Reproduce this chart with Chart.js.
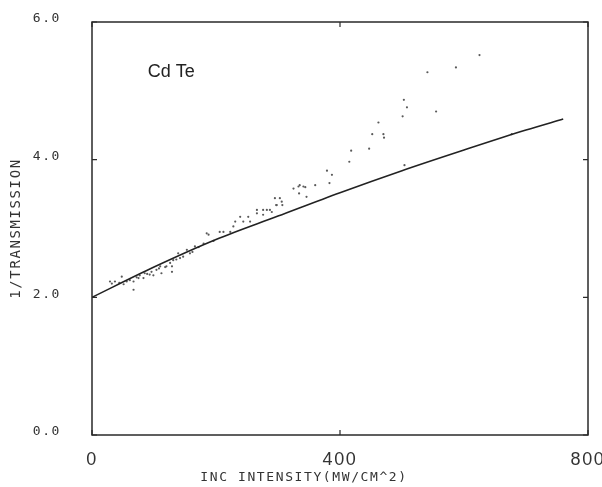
<!DOCTYPE html>
<html><head><meta charset="utf-8">
<script src="https://cdn.jsdelivr.net/npm/chart.js@4"></script>
<style>html,body{margin:0;padding:0;background:#fff;} #wrap{width:602px;height:487px;}</style>
</head><body><div id="wrap"><canvas id="c" width="602" height="487"></canvas></div>
<script>
// measured points (INC INTENSITY, 1/TRANSMISSION)
const scatterX = [29,32,37,44,48,51,56,61,67,67,72,75,77,83,85,89,93,96,99,104,108,110,112,118,120,126,129,129,131,136,139,142,147,153,158,162,166,172,180,185,188,196,206,212,223,228,231,239,244,252,255,266,266,276,276,282,287,290,295,297,298,303,306,307,325,333,334,335,341,344,346,360,379,383,387,415,418,447,452,462,470,471,501,503,504,508,541,555,587,625,677];
const scatterY = [2.23,2.20,2.23,2.21,2.30,2.19,2.23,2.25,2.23,2.11,2.29,2.28,2.32,2.28,2.35,2.34,2.33,2.37,2.32,2.40,2.42,2.45,2.35,2.44,2.45,2.50,2.45,2.37,2.54,2.55,2.64,2.57,2.59,2.69,2.64,2.66,2.74,2.73,2.78,2.93,2.91,2.82,2.95,2.95,2.95,3.03,3.10,3.17,3.10,3.17,3.10,3.27,3.22,3.27,3.20,3.27,3.27,3.24,3.44,3.34,3.34,3.44,3.39,3.34,3.58,3.61,3.51,3.63,3.61,3.60,3.46,3.63,3.84,3.66,3.78,3.97,4.13,4.16,4.37,4.54,4.37,4.32,4.63,4.87,3.92,4.76,5.27,4.70,5.34,5.52,4.37];
// fitted curve
const fitX = [0,100,200,300,400,500,600,700,760];
const fitY = [2.0,2.44,2.84,3.18,3.52,3.84,4.14,4.43,4.59];
const xTicks = [0,400,800];
const yTicks = [0,2,4,6];
const xTitle = 'INC INTENSITY(MW/CM^2)';
const yTitle = '1/TRANSMISSION';
const sampleLabel = 'Cd Te';

const MONO = "'DejaVu Sans Mono', 'Liberation Mono', monospace";
const SANS = "'Liberation Sans Narrow', 'Liberation Sans', Arial, sans-serif";
const INK = '#333';

const spacingPlugin = { id: 'spacing', beforeDraw(chart) { chart.ctx.letterSpacing = '1.6px'; } };

const framePlugin = {
  id: 'frame',
  afterDraw(chart) {
    const { ctx, chartArea: a, scales: { x, y } } = chart;
    ctx.save();
    ctx.strokeStyle = '#2a2a2a';
    ctx.lineWidth = 1.5;
    ctx.strokeRect(a.left, a.top, a.right - a.left, a.bottom - a.top);
    ctx.lineWidth = 1.2;
    ctx.beginPath();
    xTicks.forEach(v => {
      const p = x.getPixelForValue(v);
      ctx.moveTo(p, a.bottom); ctx.lineTo(p, a.bottom - 5);
      ctx.moveTo(p, a.top); ctx.lineTo(p, a.top + 5);
    });
    yTicks.forEach(v => {
      const p = y.getPixelForValue(v);
      ctx.moveTo(a.left, p); ctx.lineTo(a.left + 5, p);
      ctx.moveTo(a.right, p); ctx.lineTo(a.right - 5, p);
    });
    ctx.stroke();
    ctx.restore();
  }
};

const labelPlugin = {
  id: 'sampleLabel',
  afterDatasetsDraw(chart, args, opts) {
    const { ctx, scales: { x, y } } = chart;
    ctx.save();
    ctx.letterSpacing = '0px';
    ctx.font = opts.font;
    ctx.fillStyle = opts.color;
    ctx.textBaseline = 'middle';
    ctx.textAlign = 'left';
    ctx.fillText(opts.text, x.getPixelForValue(opts.x), y.getPixelForValue(opts.y));
    ctx.restore();
  }
};

new Chart(document.getElementById('c'), {
  data: {
    datasets: [
      {
        type: 'scatter',
        data: scatterX.map((v, i) => ({ x: v, y: scatterY[i] })),
        pointRadius: 1.1,
        pointBackgroundColor: '#5a5a5a',
        pointBorderWidth: 0,
        order: 2
      },
      {
        type: 'line',
        data: fitX.map((v, i) => ({ x: v, y: fitY[i] })),
        borderColor: '#222',
        borderWidth: 1.6,
        pointRadius: 0,
        cubicInterpolationMode: 'monotone',
        fill: false,
        order: 1
      }
    ]
  },
  options: {
    responsive: false,
    animation: false,
    layout: { padding: { top: 22, right: 14, left: 20, bottom: 0 } },
    scales: {
      x: {
        type: 'linear',
        min: 0, max: 800,
        afterBuildTicks: s => { s.ticks = xTicks.map(v => ({ value: v })); },
        afterFit: s => { s.height = 34.4; s.paddingLeft = 0; s.paddingRight = 0; },
        grid: { display: false, drawTicks: false },
        border: { display: false },
        ticks: { color: INK, padding: 14, font: { family: SANS, size: 18 }, callback: v => String(v), maxRotation: 0 }
      },
      y: {
        type: 'linear',
        min: 0, max: 6,
        afterBuildTicks: s => { s.ticks = yTicks.map(v => ({ value: v })); },
        afterFit: s => { s.width = 72; s.paddingTop = 0; s.paddingBottom = 0; },
        grid: { display: false, drawTicks: false },
        border: { display: false },
        ticks: { color: INK, padding: 31, labelOffset: -3, font: { family: MONO, size: 13 }, callback: v => Number(v).toFixed(1) },
        title: { display: true, text: yTitle, color: INK, font: { family: MONO, size: 14 }, padding: { top: -12, bottom: 0 } }
      }
    },
    plugins: {
      legend: { display: false },
      tooltip: { enabled: false },
      title: { display: true, position: 'bottom', text: xTitle, color: INK, font: { family: MONO, size: 13, weight: 'normal' }, padding: { top: 0, bottom: 2 } },
      sampleLabel: { text: sampleLabel, x: 90, y: 5.27, font: "18px " + SANS, color: '#222' }
    }
  },
  plugins: [spacingPlugin, labelPlugin, framePlugin]
});
</script>
</body></html>
